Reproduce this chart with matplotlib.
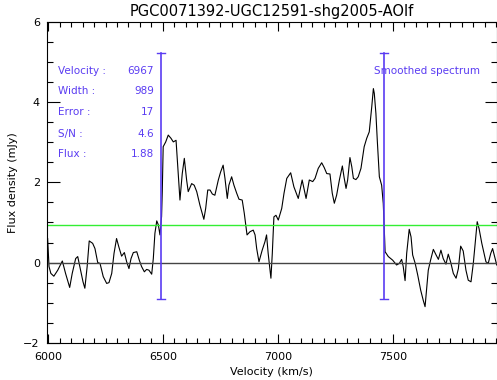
import numpy as np
import matplotlib
matplotlib.use("Agg")
import matplotlib.pyplot as plt
from matplotlib.ticker import MultipleLocator

# spectrum (velocity km/s, flux mJy)
velocity = [5998, 6004, 6012, 6025, 6042, 6062, 6076, 6094, 6105, 6120,
            6129, 6140, 6152, 6160, 6170, 6179, 6194, 6204, 6216, 6226,
            6240, 6255, 6265, 6277, 6287, 6298, 6308, 6320, 6332, 6342,
            6352, 6361, 6371, 6386, 6397, 6407, 6419, 6429, 6439, 6451,
            6458, 6465, 6473, 6480, 6487, 6494, 6497, 6501, 6512, 6523,
            6535, 6545, 6557, 6567, 6574, 6584, 6593, 6603, 6610, 6625,
            6636, 6647, 6661, 6678, 6686, 6695, 6705, 6715, 6726, 6741,
            6751, 6762, 6770, 6780, 6787, 6799, 6809, 6821, 6831, 6845,
            6854, 6866, 6879, 6893, 6901, 6908, 6918, 6932, 6944, 6951,
            6958, 6963, 6970, 6976, 6983, 6992, 7002, 7017, 7027, 7039,
            7056, 7070, 7089, 7106, 7123, 7137, 7152, 7162, 7176, 7191,
            7202, 7213, 7227, 7237, 7246, 7256, 7268, 7281, 7288, 7297,
            7304, 7314, 7322, 7329, 7340, 7350, 7362, 7376, 7387, 7398,
            7409, 7416, 7420, 7427, 7433, 7442, 7452, 7459, 7462, 7465,
            7467, 7481, 7500, 7517, 7529, 7539, 7546, 7554, 7561, 7572,
            7580, 7587, 7598, 7609, 7622, 7633, 7641, 7648, 7655, 7665,
            7677, 7689, 7699, 7710, 7720, 7732, 7742, 7753, 7764, 7776,
            7786, 7796, 7807, 7819, 7829, 7841, 7851, 7863, 7868, 7876,
            7888, 7898, 7906, 7916, 7927, 7935, 7944, 7953]
flux = [0.60, -0.10, -0.27, -0.34, -0.19, 0.04, -0.27, -0.62, -0.27, 0.10,
        0.15, -0.15, -0.48, -0.64, -0.10, 0.54, 0.48, 0.35, 0.00, -0.02,
        -0.35, -0.52, -0.50, -0.27, 0.23, 0.60, 0.39, 0.16, 0.25, 0.02,
        -0.15, 0.10, 0.25, 0.27, 0.06, -0.10, -0.23, -0.17, -0.19, -0.29,
        0.10, 0.73, 1.04, 0.94, 0.69, 1.15, 1.77, 2.89, 3.01, 3.18,
        3.10, 3.01, 3.05, 2.18, 1.56, 2.22, 2.60, 2.06, 1.77, 1.97,
        1.93, 1.77, 1.43, 1.08, 1.35, 1.81, 1.81, 1.71, 1.68, 2.06,
        2.26, 2.43, 2.10, 1.60, 1.93, 2.14, 1.93, 1.73, 1.58, 1.56,
        1.23, 0.69, 0.77, 0.81, 0.69, 0.35, 0.02, 0.31, 0.52, 0.69,
        0.23, -0.02, -0.39, 0.23, 1.14, 1.18, 1.06, 1.35, 1.73, 2.10,
        2.24, 1.89, 1.60, 2.06, 1.60, 2.06, 2.02, 2.10, 2.35, 2.49,
        2.37, 2.22, 2.21, 1.73, 1.48, 1.68, 2.06, 2.41, 2.14, 1.85,
        2.06, 2.62, 2.39, 2.10, 2.07, 2.14, 2.35, 2.89, 3.10, 3.26,
        3.89, 4.34, 4.22, 3.72, 3.05, 2.14, 1.93, 1.48, 1.06, 0.60,
        0.27, 0.15, 0.06, -0.06, -0.02, 0.08, -0.10, -0.45, 0.23, 0.83,
        0.64, 0.19, -0.02, -0.31, -0.69, -0.94, -1.10, -0.64, -0.19, 0.06,
        0.33, 0.19, 0.08, 0.31, 0.10, -0.04, 0.21, 0.00, -0.27, -0.39,
        -0.15, 0.41, 0.29, -0.19, -0.44, -0.48, -0.02, 0.73, 1.02, 0.85,
        0.48, 0.23, 0.02, -0.02, 0.23, 0.35, 0.15, -0.06]

# profile edges and levels
edge_vel = [6491, 7462]
edge_low = -0.92
edge_high = 5.24
rms_level = 0.93

labels = ["Velocity :", "Width :", "Error :", "S/N :", "Flux :"]
values = ["6967", "989", "17", "4.6", "1.88"]

blue = "#5a3cf2"

fig = plt.figure(figsize=(4.97, 3.8), dpi=100)
ax = fig.add_axes([0.094, 0.098, 0.905, 0.844])

ax.plot(velocity, flux, color="black", lw=0.8)
ax.axhline(0, color="#444444", lw=1.0)
ax.axhline(rms_level, color="#33ee33", lw=1.0)

for v in edge_vel:
    ax.plot([v, v], [edge_low, edge_high], color=blue, lw=1.2)
    ax.plot([v - 16, v + 16], [edge_high, edge_high], color=blue, lw=1.0)
    ax.plot([v - 16, v + 16], [edge_low, edge_low], color=blue, lw=1.0)

ax.set_xlim(5994, 7952)
ax.set_ylim(-2, 6)

ax.xaxis.set_major_locator(MultipleLocator(500))
ax.xaxis.set_minor_locator(MultipleLocator(50))
ax.yaxis.set_major_locator(MultipleLocator(2))
ax.yaxis.set_minor_locator(MultipleLocator(0.5))
ax.tick_params(which="both", direction="in", top=True, right=True,
               labelsize=8, width=0.8)
ax.tick_params(axis="x", which="major", length=6.5, pad=7)
ax.tick_params(axis="x", which="minor", length=3.3)
ax.tick_params(axis="y", which="major", length=9, pad=5)
ax.tick_params(axis="y", which="minor", length=4.5)
for s in ax.spines.values():
    s.set_linewidth(0.8)

ax.set_title("PGC0071392-UGC12591-shg2005-AOlf", fontsize=10.5, pad=4)
ax.set_xlabel("Velocity (km/s)", fontsize=8, labelpad=3)
ax.set_ylabel("Flux density (mJy)", fontsize=8, labelpad=4)

rows_y = [4.78, 4.28, 3.75, 3.20, 2.70]
for lab, val, yy in zip(labels, values, rows_y):
    ax.text(6043, yy, lab, color=blue, fontsize=7.5, va="center", ha="left")
    ax.text(6461, yy, val, color=blue, fontsize=7.5, va="center", ha="right")
ax.text(7419, 4.78, "Smoothed spectrum", color=blue, fontsize=7.5,
        va="center", ha="left")

fig.savefig("out.png", dpi=100)
